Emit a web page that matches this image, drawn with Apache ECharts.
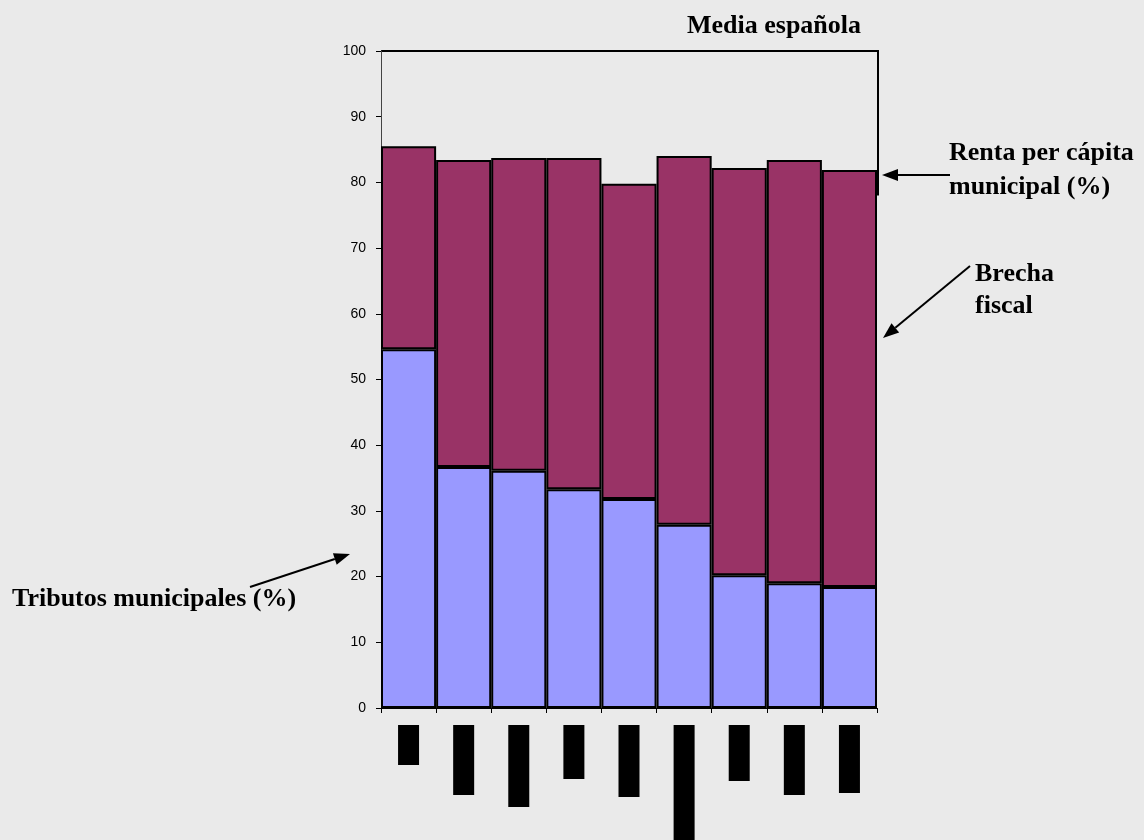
<!DOCTYPE html>
<html><head><meta charset="utf-8">
<script src="https://cdn.jsdelivr.net/npm/echarts@6/dist/echarts.min.js"></script>
<style>html,body{margin:0;padding:0;background:#eaeaea}#c{width:1144px;height:840px}</style>
</head><body><div id="c"></div>
<script>
// Data
const categories = ['M1','M2','M3','M4','M5','M6','M7','M8','M9'];
const tributos = [54.6, 36.7, 36.1, 33.3, 31.8, 27.9, 20.2, 19.0, 18.4];
const renta = [85.5, 83.4, 83.7, 83.7, 79.8, 84.0, 82.2, 83.4, 81.9];
const brecha = renta.map((r, i) => +(r - tributos[i]).toFixed(1));
const yTicks = [0,10,20,30,40,50,60,70,80,90,100];
const mediaEspanola = 100;
// label block lengths (px) for the obscured category labels
const labelLen = [40, 70, 82, 54, 72, 118, 56, 70, 68];

const rich = {};
labelLen.forEach((w, i) => { rich['b' + i] = {width: w, height: 21, backgroundColor: '#000', color: '#000', fontSize: 1}; });

const chart = echarts.init(document.getElementById('c'));
const serif = '"Liberation Serif","Times New Roman",serif';
chart.setOption({
  backgroundColor: '#eaeaea',
  animation: false,
  grid: {left: 381, right: 267, top: 51, bottom: 132, outerBoundsMode: 'none', containLabel: false},
  xAxis: {
    type: 'category', data: categories,
    axisLine: {lineStyle: {color: '#000', width: 1}},
    axisTick: {show: true, length: 5, lineStyle: {color: '#000'}},
    axisLabel: {
      rotate: 90, margin: 17, interval: 0,
      formatter: (v, i) => '{b' + i + '|}',
      rich: rich
    }
  },
  yAxis: {
    type: 'value', min: 0, max: 100, interval: 10,
    axisLine: {show: true, lineStyle: {color: '#444'}},
    axisTick: {show: true, length: 5, lineStyle: {color: '#000'}},
    splitLine: {show: false},
    axisLabel: {color: '#000', fontSize: 14, fontFamily: 'Liberation Sans, Arial, sans-serif', margin: 15,
      formatter: v => yTicks.includes(v) ? String(v) : ''}
  },
  series: [
    {name: 'Tributos municipales (%)', type: 'bar', stack: 's', data: tributos,
     barCategoryGap: 0, barGap: 0,
     itemStyle: {color: '#9999ff', borderColor: '#000', borderWidth: 2}},
    {name: 'Brecha fiscal', type: 'bar', stack: 's', data: brecha,
     barCategoryGap: 0, barGap: 0,
     itemStyle: {color: '#993366', borderColor: '#000', borderWidth: 2}}
  ]
});

// annotations
const yTop = chart.convertToPixel({yAxisIndex: 0}, mediaEspanola);
const yEnd = chart.convertToPixel({yAxisIndex: 0}, 78);
const xL = 381, xR = 1144 - 267;
const txt = (t, x, y, align) => ({type: 'text', x: x, y: y, style: {text: t, font: 'bold 26px ' + serif, fill: '#000', align: align || 'left', verticalAlign: 'middle'}});
const arrow = (x1, y1, x2, y2) => {
  const a = Math.atan2(y2 - y1, x2 - x1), L = 16, W = 6;
  const bx = x2 - L * Math.cos(a), by = y2 - L * Math.sin(a);
  const nx = -Math.sin(a) * W, ny = Math.cos(a) * W;
  return [
    {type: 'line', shape: {x1: x1, y1: y1, x2: bx, y2: by}, style: {stroke: '#000', lineWidth: 2}},
    {type: 'polygon', shape: {points: [[x2, y2], [bx + nx, by + ny], [bx - nx, by - ny]]}, style: {fill: '#000'}}
  ];
};
chart.setOption({
  graphic: [
    {type: 'polyline', shape: {points: [[xL, yTop], [xR + 1, yTop], [xR + 1, yEnd]]}, style: {stroke: '#000', lineWidth: 2, fill: null}},
    txt('Media española', 774, 26, 'center'),
    txt('Renta per cápita', 949, 153),
    txt('municipal (%)', 949, 187),
    txt('Brecha', 975, 274),
    txt('fiscal', 975, 306),
    txt('Tributos municipales (%)', 12, 599),
    ...arrow(950, 175, 882, 175),
    ...arrow(970, 266, 883, 338),
    ...arrow(250, 587, 350, 554)
  ]
});
</script>
</body></html>
